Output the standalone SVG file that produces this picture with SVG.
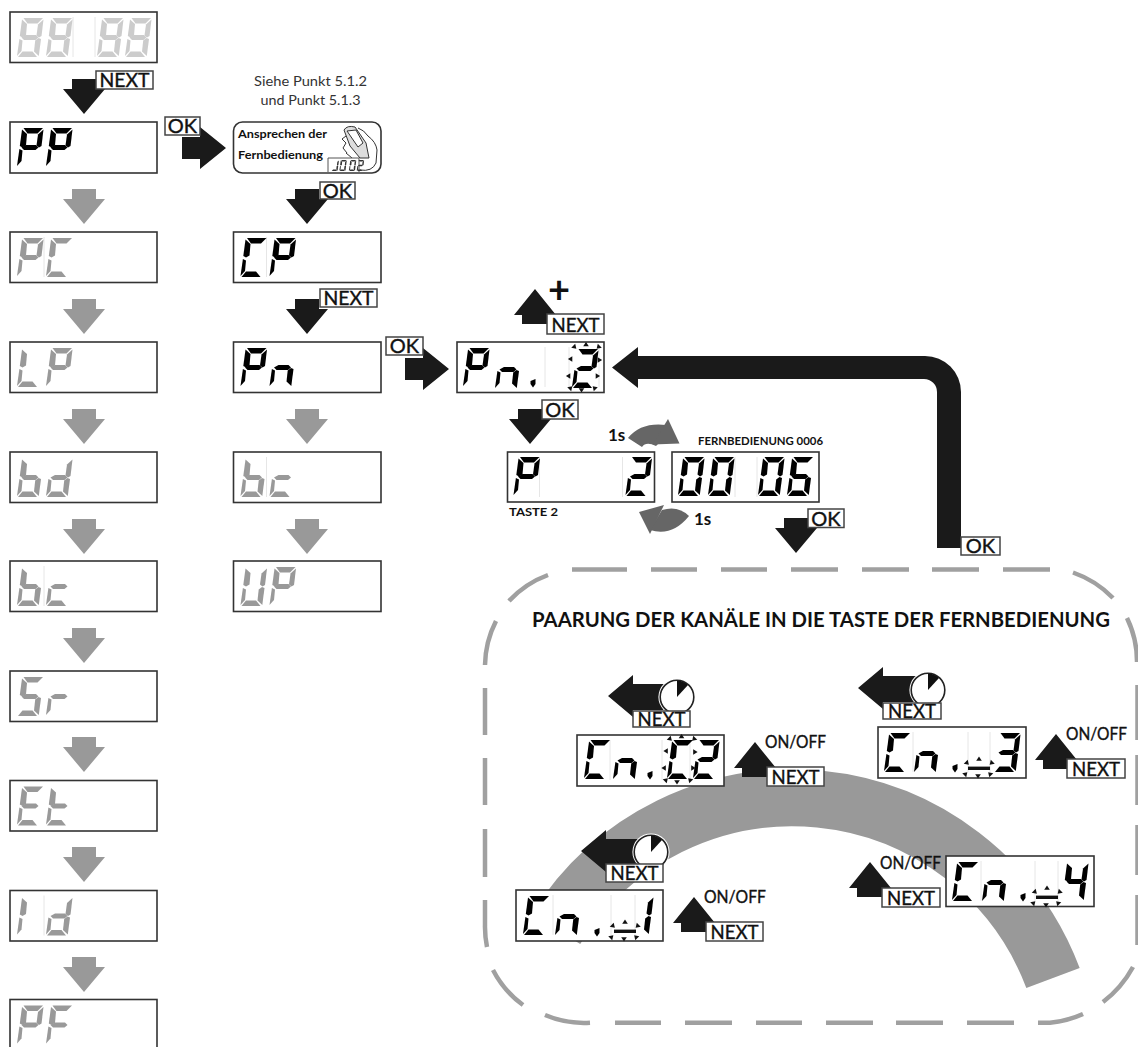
<svg xmlns="http://www.w3.org/2000/svg" xmlns:xlink="http://www.w3.org/1999/xlink" width="1138" height="1047" viewBox="0 0 1138 1047">
<style>
text{font-family:"Lato","Open Sans","Liberation Sans",sans-serif;fill:#111}
.box{fill:#fff;stroke:#333;stroke-width:1.6}
.lab{fill:#fff;stroke:#444;stroke-width:1.5}
.tx{font-size:20px;text-anchor:middle;stroke:#111;stroke-width:.4}
.oo{font-size:17px;stroke:#111;stroke-width:.35}
.b{font-weight:700}
.dk{fill:#1a1a1a}.gr{fill:#999}.mid{fill:#666}
.on{fill:#000}.off{fill:#999}.lite{fill:#ccc}
.div{stroke:#e6e6e6;stroke-width:1;fill:none}
.dash{fill:none;stroke:#a0a0a0;stroke-width:4.5}
.ck{fill:#fff;stroke:#222;stroke-width:1.6}
</style>
<defs>
<polygon id="sa" points="6.5,0 26,0 20.5,5.5 10.5,5.5"/>
<polygon id="sb" points="26.5,1.5 24.5,18 22,19.5 19.5,17.5 21,6.5"/>
<polygon id="sc" points="24,21 21.8,38 17,33.5 18.2,22.5 21.5,20"/>
<polygon id="sd" points="1,39 20,39 15.5,33.5 5.5,33.5"/>
<polygon id="se" points="2.4,21 5.5,22.5 4.5,33 0,38"/>
<polygon id="sf" points="5,1.5 10,6 9,17.5 5.5,19.5 2.8,18"/>
<polygon id="sg" points="4.5,19.500 9,17 19,17 21.5,19.5 18.5,22 7,22"/>
<g id="d0"><use href="#sa"/><use href="#sb"/><use href="#sc"/><use href="#sd"/><use href="#se"/><use href="#sf"/></g>
<g id="d8"><use href="#d0"/><use href="#sg"/></g>
<g id="d2"><use href="#sa"/><use href="#sb"/><use href="#sg"/><use href="#se"/><use href="#sd"/></g>
<g id="d3"><use href="#sa"/><use href="#sb"/><use href="#sg"/><use href="#sc"/><use href="#sd"/></g>
<g id="d4"><use href="#sf"/><use href="#sb"/><use href="#sg"/><use href="#sc"/></g>
<g id="d5"><use href="#sa"/><use href="#sf"/><use href="#sg"/><use href="#sc"/><use href="#sd"/></g>
<g id="d6"><use href="#sa"/><use href="#sf"/><use href="#sg"/><use href="#sc"/><use href="#sd"/><use href="#se"/></g>
<g id="dL1"><use href="#se"/><use href="#sf"/></g>
<g id="dR1"><use href="#sb"/><use href="#sc"/></g>
<g id="dP"><use href="#sa"/><use href="#sb"/><use href="#sf"/><use href="#sg"/><use href="#se"/></g>
<g id="dC"><use href="#sa"/><use href="#sf"/><use href="#se"/><use href="#sd"/></g>
<g id="dL"><use href="#sf"/><use href="#se"/><use href="#sd"/></g>
<g id="db"><use href="#sf"/><use href="#se"/><use href="#sd"/><use href="#sc"/><use href="#sg"/></g>
<g id="dd"><use href="#sb"/><use href="#se"/><use href="#sd"/><use href="#sc"/><use href="#sg"/></g>
<g id="dc"><use href="#sg"/><use href="#se"/><use href="#sd"/></g>
<g id="dr"><use href="#sg"/><use href="#se"/></g>
<g id="dn"><use href="#sg"/><use href="#se"/><use href="#sc"/></g>
<g id="dE"><use href="#sa"/><use href="#sf"/><use href="#se"/><use href="#sd"/><use href="#sg"/></g>
<g id="dt"><use href="#sf"/><use href="#se"/><use href="#sd"/><use href="#sg"/></g>
<g id="dF"><use href="#sa"/><use href="#sf"/><use href="#se"/><use href="#sg"/></g>
<g id="dU"><use href="#sb"/><use href="#sc"/><use href="#sd"/><use href="#se"/><use href="#sf"/></g>
<polygon id="dot" points="-2.500,-2 2.500,-4 2.500,1 0,4.500 -2.500,1"/>
<polygon id="tri" points="-2.8,1.8 2.8,1.8 0,-2.6" fill="#111"/>
<g id="blink">
<use href="#tri" transform="translate(3,-1) rotate(135)"/>
<use href="#tri" transform="translate(14.5,-3.5)"/>
<use href="#tri" transform="translate(27,-1) rotate(-135)"/>
<use href="#tri" transform="translate(28,12) rotate(90)"/>
<use href="#tri" transform="translate(-1,11) rotate(-90)"/>
<use href="#tri" transform="translate(-3,28) rotate(-90)"/>
<use href="#tri" transform="translate(26,28) rotate(90)"/>
<use href="#tri" transform="translate(-1,40) rotate(45)"/>
<use href="#tri" transform="translate(10,42) rotate(180)"/>
<use href="#tri" transform="translate(23,40) rotate(-45)"/>
</g>
<g id="barblink">
<rect x="2" y="39.600" width="22" height="3.400" fill="#111"/>
<use href="#tri" transform="translate(1,36) rotate(135)"/>
<use href="#tri" transform="translate(13,32)"/>
<use href="#tri" transform="translate(25.5,36) rotate(-135)"/>
<use href="#tri" transform="translate(-.5,47) rotate(45)"/>
<use href="#tri" transform="translate(12,49) rotate(180)"/>
<use href="#tri" transform="translate(24,47) rotate(-45)"/>
</g>
<polygon id="ad" points="-12,0 12,0 12,10 21,10 0,35 -21,10 -12,10"/>
<polygon id="au" points="0,0 21,26 13,26 13,35 -13,35 -13,26 -21,26"/>
<polygon id="ar" points="-44,-11 -26,-11 -26,-21 0,0 -26,21 -26,11 -44,11"/>
<polygon id="al" points="0,0 25,-21 25,-12 68,-12 68,14 25,14 25,21"/>
<g id="clock"><circle r="18.600" fill="#fff"/><circle class="ck" r="16.800"/><path d="M0,0V-16.500A16.500,16.500 0 0 1 11,-12Z" fill="#111"/></g>
</defs>

<rect width="1138" height="1047" fill="#fff"/>

<path id="band" d="M556,929A278.5,278.5 0 0 1 1053,978" fill="none" stroke="#999" stroke-width="57"/>

<g id="frame">
<path class="dash" d="M572,569.5H627M651,569.5H697M721,569.5H767M791,569.5H838M862,569.5H909M932,569.5H979M1003,569.5H1050M1073,572.5A103,103 0 0 1 1113,598M1127,618A100,100 0 0 1 1137,662M1137.5,685V740M1137.5,755V805M1137.5,825V875M1137.5,895V945M1133,967A110,110 0 0 1 1103,1002M1083,1014A100,100 0 0 1 1050,1022.7H1038M1014,1022.7H967M943,1022.7H896M873,1022.7H826M802,1022.7H756M732,1022.7H685M661,1022.7H615M590,1022.7A100,100 0 0 1 545,1015M523,1005A100,100 0 0 1 493,970M487,947A100,100 0 0 1 485,925V900M485,877V829M485,805V758M485,735V688M485,665A100,100 0 0 1 496,621M509,601A100,100 0 0 1 548,575"/>
<text id="frame-title" class="b" x="532" y="627" font-size="20" textLength="578" lengthAdjust="spacingAndGlyphs">PAARUNG DER KANÄLE IN DIE TASTE DER FERNBEDIENUNG</text>
</g>

<g id="connectors">
<use href="#ad" class="dk" x="84" y="79"/>
<use href="#ad" class="gr" x="84" y="189"/>
<use href="#ad" class="gr" x="84" y="299"/>
<use href="#ad" class="gr" x="84" y="409"/>
<use href="#ad" class="gr" x="84" y="519"/>
<use href="#ad" class="gr" x="84" y="628"/>
<use href="#ad" class="gr" x="84" y="737"/>
<use href="#ad" class="gr" x="84" y="847"/>
<use href="#ad" class="gr" x="84" y="957"/>
<use href="#ar" class="dk" x="226" y="148"/>
<use href="#ad" class="dk" x="307" y="189"/>
<use href="#ad" class="dk" x="307" y="299"/>
<use href="#ad" class="gr" x="307" y="409"/>
<use href="#ad" class="gr" x="307" y="519"/>
<use href="#ar" class="dk" x="449" y="369"/>
<use href="#au" class="dk" x="535" y="289"/>
<use href="#ad" class="dk" x="530" y="409"/>
<use href="#ad" class="dk" x="796" y="518"/>
<path class="dk" d="M612,367.5L638,347V356H925A36,36 0 0 1 961,392V548H937V392A13,13 0 0 0 924,379H638V388Z"/>
<g id="arc1" class="mid"><path d="M628,438Q641,422 666,425L670,432L656,446Q646,441 642,447Z"/><polygon points="652.500,444.500 668,419 679.500,443.500"/></g>
<g id="arc2" class="mid"><path d="M689,516Q678,505 662,510L650,530Q672,537 689,516Z"/><polygon points="639,512 664,505 650,534"/></g>
<g id="clock-arrow-c2"><use href="#al" class="dk" x="608" y="696"/><use href="#clock" x="677" y="697"/></g>
<g id="clock-arrow-3"><use href="#al" class="dk" x="858" y="688"/><use href="#clock" x="928" y="690"/></g>
<g id="clock-arrow-1"><use href="#al" class="dk" x="581" y="851"/><use href="#clock" x="651" y="852"/></g>
<use href="#au" class="dk" x="755" y="742"/>
<use href="#au" class="dk" x="694" y="897"/>
<use href="#au" class="dk" x="1056" y="734"/>
<use href="#au" class="dk" x="870" y="862"/>

<g id="labels">
<rect class="lab" x="96" y="71" width="57" height="18"/><text class="tx" x="124.500" y="87" textLength="50" lengthAdjust="spacingAndGlyphs">NEXT</text>
<rect class="lab" x="165" y="117" width="35" height="18"/><text class="tx" x="182.500" y="133">OK</text>
<rect class="lab" x="320" y="182" width="35" height="17"/><text class="tx" x="337.500" y="198">OK</text>
<rect class="lab" x="320" y="289" width="57" height="18"/><text class="tx" x="348.500" y="305" textLength="50" lengthAdjust="spacingAndGlyphs">NEXT</text>
<rect class="lab" x="386" y="337" width="37" height="18"/><text class="tx" x="404.500" y="353">OK</text>
<rect class="lab" x="547" y="314" width="57" height="20"/><text class="tx" x="575.500" y="332" textLength="48" lengthAdjust="spacingAndGlyphs">NEXT</text>
<text class="b" x="559" y="303" font-size="38" text-anchor="middle">+</text>
<rect class="lab" x="542" y="400" width="36" height="19"/><text class="tx" x="560" y="417">OK</text>
<rect class="lab" x="808" y="509" width="36" height="18.500"/><text class="tx" x="826" y="526">OK</text>
<rect class="lab" x="961" y="537" width="39" height="18"/><text class="tx" x="980.500" y="553">OK</text>
<rect class="lab" x="633" y="711" width="57" height="16"/><text class="tx" x="661.500" y="726" textLength="48" lengthAdjust="spacingAndGlyphs">NEXT</text>
<rect class="lab" x="883" y="703" width="58" height="16"/><text class="tx" x="912" y="718" textLength="48" lengthAdjust="spacingAndGlyphs">NEXT</text>
<rect class="lab" x="606" y="864" width="57" height="18"/><text class="tx" x="634.500" y="880" textLength="48" lengthAdjust="spacingAndGlyphs">NEXT</text>
<rect class="lab" x="767" y="767" width="57" height="19"/><text class="tx" x="795.500" y="784" textLength="48" lengthAdjust="spacingAndGlyphs">NEXT</text>
<rect class="lab" x="706" y="922" width="57" height="19"/><text class="tx" x="734.500" y="939" textLength="48" lengthAdjust="spacingAndGlyphs">NEXT</text>
<rect class="lab" x="1067" y="759" width="58" height="19"/><text class="tx" x="1096" y="776" textLength="48" lengthAdjust="spacingAndGlyphs">NEXT</text>
<rect class="lab" x="882" y="888" width="58" height="19"/><text class="tx" x="911" y="905" textLength="48" lengthAdjust="spacingAndGlyphs">NEXT</text>
<text class="oo" x="765" y="748" textLength="61" lengthAdjust="spacingAndGlyphs">ON/OFF</text>
<text class="oo" x="704" y="903" textLength="62" lengthAdjust="spacingAndGlyphs">ON/OFF</text>
<text class="oo" x="1066" y="740" textLength="61" lengthAdjust="spacingAndGlyphs">ON/OFF</text>
<text class="oo" x="880" y="869" textLength="61" lengthAdjust="spacingAndGlyphs">ON/OFF</text>
<text class="b" x="608" y="441" font-size="17">1s</text>
<text class="b" x="694" y="525" font-size="17">1s</text>
</g>
</g>

<g id="n-note"><text x="310.500" y="86" font-size="14" text-anchor="middle" style="fill:#333" textLength="113" lengthAdjust="spacingAndGlyphs">Siehe Punkt 5.1.2</text><text x="310.500" y="105" font-size="14" text-anchor="middle" style="fill:#333" textLength="100" lengthAdjust="spacingAndGlyphs">und Punkt 5.1.3</text></g>

<g id="n-88" transform="translate(10,12)"><rect class="box" width="147" height="50.500"/><path class="div" d="M63,5V45M85,5V45"/><g class="lite"><use href="#d8" x="7" y="6"/><use href="#d8" x="36" y="6"/><use href="#d8" x="87" y="6"/><use href="#d8" x="115" y="6"/></g></g>
<g id="n-PP" transform="translate(10,122)"><rect class="box" width="147" height="51"/><g class="on"><use href="#dP" x="7" y="6"/><use href="#dP" x="36" y="6"/></g></g>
<g id="n-PC" transform="translate(10,232)"><rect class="box" width="147" height="50.500"/><path class="div" d="M34,5V45"/><g class="off"><use href="#dP" x="7" y="6"/><use href="#dC" x="36" y="6"/></g></g>
<g id="n-LP" transform="translate(10,342)"><rect class="box" width="147" height="50.500"/><g class="off"><use href="#dL" x="7" y="6"/><use href="#dP" x="36" y="6"/></g></g>
<g id="n-bd" transform="translate(10,452)"><rect class="box" width="147" height="50.500"/><g class="off"><use href="#db" x="7" y="6"/><use href="#dd" x="36" y="6"/></g></g>
<g id="n-bc" transform="translate(10,561)"><rect class="box" width="147" height="50.500"/><path class="div" d="M34,5V45"/><g class="off"><use href="#db" x="7" y="6"/><use href="#dc" x="36" y="6"/></g></g>
<g id="n-Sr" transform="translate(10,671)"><rect class="box" width="147" height="50.500"/><g class="off"><use href="#d5" x="7" y="6"/><use href="#dr" x="36" y="6"/></g></g>
<g id="n-Et" transform="translate(10,780.500)"><rect class="box" width="147" height="50.500"/><g class="off"><use href="#dE" x="7" y="6"/><use href="#dt" x="36" y="6"/></g></g>
<g id="n-Id" transform="translate(10,890.500)"><rect class="box" width="147" height="50.500"/><path class="div" d="M34,5V45"/><g class="off"><use href="#dL1" x="7" y="6"/><use href="#dd" x="36" y="6"/></g></g>
<g id="n-PF" transform="translate(10,999.500)"><rect class="box" width="147" height="60"/><g class="off"><use href="#dP" x="7" y="6"/><use href="#dF" x="36" y="6"/></g></g>

<g id="n-remote">
<rect class="box" x="233.500" y="122" width="147.500" height="51" rx="9"/>
<text class="b" x="238" y="138" font-size="12" textLength="89" lengthAdjust="spacingAndGlyphs">Ansprechen der</text>
<text class="b" x="238" y="159" font-size="12" textLength="85" lengthAdjust="spacingAndGlyphs">Fernbedienung</text>
<g id="hand" fill="none" stroke="#333" stroke-width="1">
<path d="M344,130Q347,125 355,127L366,143L369,158L360,158L350,146Z" fill="#ddd"/>
<path d="M347,131L356,130L363,143L358,147Z" fill="#fff"/>
<path d="M358,128Q364,130 368,136Q376,142 377,150L376,163Q372,172 360,170M346,136L342,139L346,143M343,148L346,143M343,148L347,153M346,153L352,158"/>
</g>
<path d="M328,172V158H359V172" fill="#fff" stroke="#555" stroke-width="1"/>
<g transform="translate(331.500,160) scale(.28)" fill="#333"><use href="#sb"/><use href="#sc"/><use href="#sd"/><use href="#d0" x="28"/><use href="#d0" x="62"/><use href="#d2" x="90"/></g>
</g>
<g id="n-CP" transform="translate(233.500,232)"><rect class="box" width="147.500" height="50.500"/><path class="div" d="M33,5V45"/><g class="on"><use href="#dC" x="7" y="6"/><use href="#dP" x="36" y="6"/></g></g>
<g id="n-Pn" transform="translate(233.500,342)"><rect class="box" width="147.500" height="50.500"/><g class="on"><use href="#dP" x="7" y="6"/><use href="#dn" x="36" y="6"/></g></g>
<g id="n-bc2" transform="translate(233.500,452)"><rect class="box" width="147.500" height="50.500"/><path class="div" d="M33,5V45"/><g class="off"><use href="#db" x="7" y="6"/><use href="#dc" x="36" y="6"/></g></g>
<g id="n-UP" transform="translate(233.500,561)"><rect class="box" width="147.500" height="50.500"/><g class="off"><use href="#dU" x="7" y="6"/><use href="#dP" x="36" y="6"/></g></g>

<g id="n-Pn2" transform="translate(457,342)"><rect class="box" width="147" height="50.500"/><path class="div" d="M88,5V45M112,5V45M142,5V45"/><g class="on"><use href="#dP" x="6" y="6"/><use href="#dn" x="38" y="8"/><use href="#dot" x="76" y="41"/><use href="#d2" x="115" y="7"/></g><use href="#blink" x="114.500" y="6"/></g>
<g id="n-P2" transform="translate(507.500,452)"><rect class="box" width="147" height="50"/><path class="div" d="M32,5V45M115,5V45"/><g class="on"><use href="#dP" x="6" y="5"/><use href="#d2" x="118" y="5"/></g></g>
<text id="taste" class="b" x="509" y="516" font-size="11" textLength="49" lengthAdjust="spacingAndGlyphs">TASTE 2</text>
<g id="n-0006" transform="translate(672,452)"><rect class="box" width="147" height="50"/><path class="div" d="M63,5V45M85,5V45"/><g class="on"><use href="#d0" x="6" y="5"/><use href="#d0" x="36" y="5"/><use href="#d0" x="86" y="5"/><use href="#d6" x="115" y="5"/></g></g>
<text id="fernb" class="b" x="698" y="445" font-size="11" textLength="125" lengthAdjust="spacingAndGlyphs">FERNBEDIENUNG 0006</text>

<g id="n-CnC2" transform="translate(577,735)"><rect class="box" width="147" height="51"/><path class="div" d="M33,5V45M85,5V45M113,5V45"/><g class="on"><use href="#dC" x="7" y="5"/><use href="#dn" x="36" y="6"/><use href="#dot" x="73" y="40"/><use href="#dC" x="90" y="5"/><use href="#d2" x="116" y="5"/></g><use href="#blink" x="90" y="5"/></g>
<g id="n-Cn3" transform="translate(878,727)"><rect class="box" width="148" height="51"/><path class="div" d="M35,5V45M90,5V45M112,5V45"/><g class="on"><use href="#dC" x="6" y="6"/><use href="#dn" x="36" y="7"/><use href="#dot" x="77" y="41"/><use href="#d3" x="116" y="6"/></g><use href="#barblink" x="88"/></g>
<g id="n-Cn1" transform="translate(516,890)"><rect class="box" width="147" height="51"/><path class="div" d="M37,5V45M95,5V45M119,5V45"/><g class="on"><use href="#dC" x="7" y="6"/><use href="#dn" x="39" y="7"/><use href="#dot" x="81" y="42"/><use href="#dR1" x="111" y="6"/></g><use href="#barblink" x="96"/></g>
<g id="n-Cn4" transform="translate(946,856)"><rect class="box" width="148" height="50.500"/><path class="div" d="M35,5V45M89,5V45M112,5V45"/><g class="on"><use href="#dC" x="6" y="6"/><use href="#dn" x="36" y="7"/><use href="#dot" x="77" y="41"/><use href="#d4" x="116" y="6"/></g><use href="#barblink" x="88"/></g>
</svg>
